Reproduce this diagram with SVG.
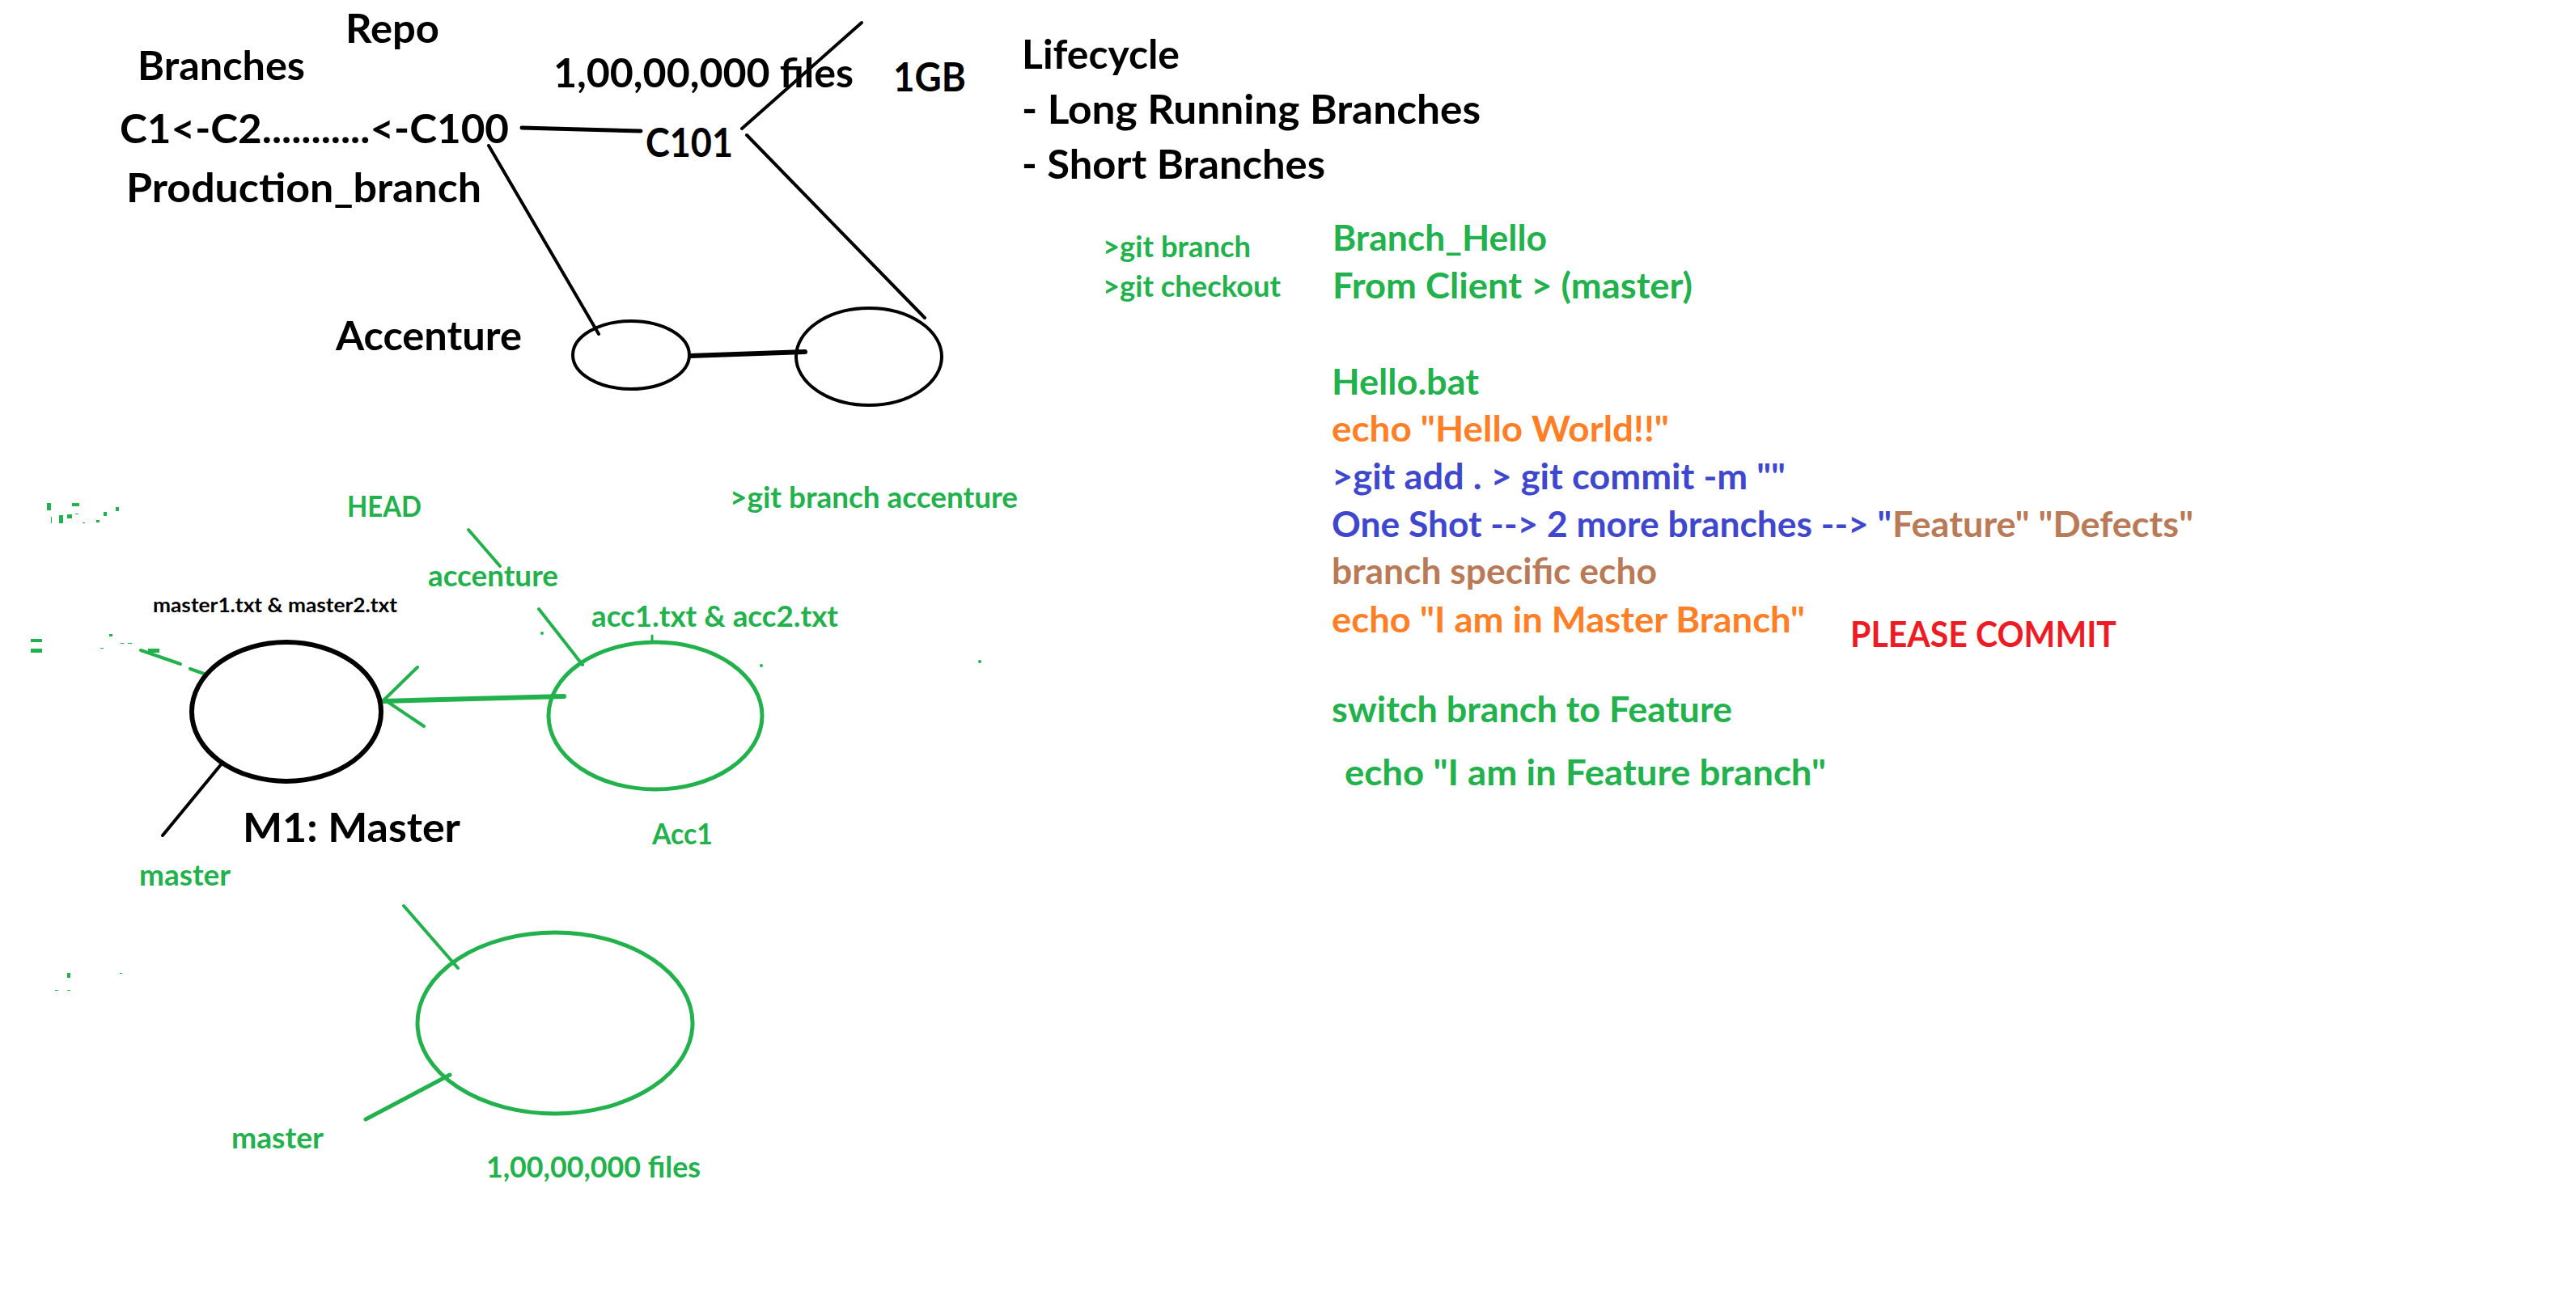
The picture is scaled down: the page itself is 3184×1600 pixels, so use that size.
<svg xmlns="http://www.w3.org/2000/svg" width="3184" height="1600" viewBox="0 0 3184 1600">
<style>
text{font-family:Lato,"Open Sans","Liberation Sans",sans-serif;font-weight:bold}
.bk{fill:#000;font-size:50px}
.g36{fill:#22B14C;font-size:36px}
.c43{font-size:43px}
.green{fill:#22B14C}
.orange{fill:#FF7F27}
.blue{fill:#3F48CC}
.brown{fill:#B97A57}
.red{fill:#ED1C24}
.small{fill:#000;font-size:25px}
.lb{stroke:#000;fill:none;stroke-linecap:round}
.lg{stroke:#22B14C;fill:none;stroke-linecap:round}
.frag{fill:#22B14C}
</style>
<rect width="3184" height="1600" fill="#fff"/>

<g id="connectors">
<line class="lb" x1="645" y1="158" x2="792" y2="162" stroke-width="5"/>
<line class="lb" x1="1065" y1="28" x2="917" y2="159" stroke-width="4"/>
<line class="lb" x1="923" y1="167" x2="1143" y2="393" stroke-width="4"/>
<line class="lb" x1="604" y1="180" x2="740" y2="413" stroke-width="4"/>
<line class="lb" x1="853" y1="440" x2="995" y2="435" stroke-width="6"/>
<line class="lb" x1="275" y1="943" x2="201" y2="1033" stroke-width="4"/>
<line class="lg" x1="579" y1="655" x2="618" y2="700" stroke-width="4"/>
<line class="lg" x1="666" y1="753" x2="720" y2="822" stroke-width="4"/>
<line class="lg" x1="174" y1="804" x2="223" y2="821" stroke-width="4"/>
<line class="lg" x1="235" y1="827" x2="252" y2="833" stroke-width="4"/>
<line class="lg" x1="697" y1="861" x2="472" y2="867" stroke-width="6"/>
<line class="lg" x1="516" y1="825" x2="475" y2="865" stroke-width="4"/>
<line class="lg" x1="475" y1="865" x2="524" y2="898" stroke-width="4"/>
<line class="lg" x1="499" y1="1120" x2="566" y2="1197" stroke-width="4"/>
<line class="lg" x1="452" y1="1384" x2="556" y2="1329" stroke-width="5"/>
<line class="lg" x1="806" y1="786" x2="806" y2="794" stroke-width="3"/>
</g>

<g id="repo-notes">
<text class="bk" x="427" y="53" textLength="116" lengthAdjust="spacingAndGlyphs">Repo</text>
<text class="bk" x="170" y="99" textLength="207" lengthAdjust="spacingAndGlyphs">Branches</text>
<text class="bk" x="684" y="108" textLength="371" lengthAdjust="spacingAndGlyphs">1,00,00,000 files</text>
<text class="bk" x="1104" y="113" textLength="90" lengthAdjust="spacingAndGlyphs">1GB</text>
<text class="bk" x="148" y="177" textLength="481" lengthAdjust="spacingAndGlyphs">C1&lt;-C2...........&lt;-C100</text>
<text class="bk" x="798" y="194" textLength="108" lengthAdjust="spacingAndGlyphs">C101</text>
<text class="bk" x="156" y="250" textLength="439" lengthAdjust="spacingAndGlyphs">Production_branch</text>
<text class="bk" x="415" y="433" textLength="230" lengthAdjust="spacingAndGlyphs">Accenture</text>
</g>

<g id="node-accenture-small"><ellipse cx="780" cy="439" rx="72" ry="42" fill="none" stroke="#000" stroke-width="4"/></g>
<g id="node-accenture-big"><ellipse cx="1074" cy="441" rx="90" ry="60" fill="none" stroke="#000" stroke-width="4"/></g>

<g id="lifecycle">
<text class="bk" x="1263" y="85" textLength="195" lengthAdjust="spacingAndGlyphs">Lifecycle</text>
<text class="bk" x="1263" y="153" textLength="567" lengthAdjust="spacingAndGlyphs">- Long Running Branches</text>
<text class="bk" x="1263" y="221" textLength="375" lengthAdjust="spacingAndGlyphs">- Short Branches</text>
</g>

<g id="git-commands">
<text class="g36" x="1363" y="318" textLength="183" lengthAdjust="spacingAndGlyphs">&gt;git branch</text>
<text class="g36" x="1363" y="367" textLength="220" lengthAdjust="spacingAndGlyphs">&gt;git checkout</text>
</g>

<g id="steps">
<text class="c43 green" x="1647" y="310" textLength="265" lengthAdjust="spacingAndGlyphs">Branch_Hello</text>
<text class="c43 green" x="1647" y="369" textLength="445" lengthAdjust="spacingAndGlyphs">From Client &gt; (master)</text>
<text class="c43 green" x="1646" y="488" textLength="182" lengthAdjust="spacingAndGlyphs">Hello.bat</text>
<text class="c43 orange" x="1646" y="546" textLength="417" lengthAdjust="spacingAndGlyphs">echo "Hello World!!"</text>
<text class="c43 blue" x="1646" y="605" textLength="561" lengthAdjust="spacingAndGlyphs">&gt;git add . &gt; git commit -m ""</text>
<text class="c43 blue" x="1646" y="664" textLength="692" lengthAdjust="spacingAndGlyphs">One Shot --&gt; 2 more branches --&gt; "</text>
<text class="c43 brown" x="2339" y="664" textLength="372" lengthAdjust="spacingAndGlyphs">Feature" "Defects"</text>
<text class="c43 brown" x="1646" y="722" textLength="402" lengthAdjust="spacingAndGlyphs">branch specific echo</text>
<text class="c43 orange" x="1646" y="782" textLength="585" lengthAdjust="spacingAndGlyphs">echo "I am in Master Branch"</text>
<text class="c43 red" x="2287" y="800" textLength="329" lengthAdjust="spacingAndGlyphs">PLEASE COMMIT</text>
<text class="c43 green" x="1646" y="893" textLength="495" lengthAdjust="spacingAndGlyphs">switch branch to Feature</text>
<text class="c43 green" x="1662" y="971" textLength="595" lengthAdjust="spacingAndGlyphs">echo "I am in Feature branch"</text>
</g>

<g id="labels-lower">
<text class="g36" x="429" y="639" textLength="92" lengthAdjust="spacingAndGlyphs">HEAD</text>
<text class="g36" x="902" y="628" textLength="356" lengthAdjust="spacingAndGlyphs">&gt;git branch accenture</text>
<text class="g36" x="529" y="725" textLength="161" lengthAdjust="spacingAndGlyphs">accenture</text>
<text class="small" x="189" y="757" textLength="302" lengthAdjust="spacingAndGlyphs">master1.txt &amp; master2.txt</text>
<text class="g36" x="731" y="775" textLength="305" lengthAdjust="spacingAndGlyphs">acc1.txt &amp; acc2.txt</text>
<text class="g36" x="172" y="1095" textLength="113" lengthAdjust="spacingAndGlyphs">master</text>
<text class="g36" x="286" y="1420" textLength="114" lengthAdjust="spacingAndGlyphs">master</text>
<text class="g36" x="601" y="1456" textLength="265" lengthAdjust="spacingAndGlyphs">1,00,00,000 files</text>
</g>

<g id="node-m1">
<ellipse cx="354" cy="880" rx="117" ry="86" fill="none" stroke="#000" stroke-width="6"/>
<text class="bk" x="300" y="1041" textLength="269" lengthAdjust="spacingAndGlyphs">M1: Master</text>
</g>

<g id="node-acc1">
<ellipse cx="810" cy="885" rx="132" ry="91" fill="none" stroke="#22B14C" stroke-width="5"/>
<text class="g36" x="806" y="1044" textLength="75" lengthAdjust="spacingAndGlyphs">Acc1</text>
</g>

<g id="node-files">
<ellipse cx="686" cy="1265" rx="170" ry="112" fill="none" stroke="#22B14C" stroke-width="5"/>
</g>

<g id="fragments">
<rect class="frag" x="58" y="622" width="5" height="9"/>
<rect class="frag" x="89" y="622" width="9" height="4"/>
<rect class="frag" x="73" y="637" width="5" height="10"/>
<rect class="frag" x="63" y="639" width="1" height="8"/>
<rect class="frag" x="83" y="636" width="6" height="5"/>
<rect class="frag" x="93" y="635" width="4" height="1"/>
<rect class="frag" x="128" y="633" width="4" height="5"/>
<rect class="frag" x="143" y="627" width="4" height="5"/>
<rect class="frag" x="102" y="646" width="3" height="1"/>
<rect class="frag" x="119" y="643" width="4" height="3"/>
<path class="frag" d="M38 790h14v4h-14zM38 802h14v5h-14z"/>
<rect class="frag" x="135" y="784" width="4" height="3"/>
<rect class="frag" x="149" y="795" width="4" height="1"/>
<rect class="frag" x="158" y="795" width="5" height="1"/>
<rect class="frag" x="124" y="801" width="4" height="1"/>
<rect class="frag" x="183" y="802" width="14" height="5"/>
<circle class="frag" cx="670" cy="783" r="2"/>
<circle class="frag" cx="941" cy="823" r="2"/>
<circle class="frag" cx="1211" cy="818" r="2"/>
<rect class="frag" x="83" y="1203" width="4" height="6"/>
<rect class="frag" x="68" y="1224" width="4" height="1"/>
<rect class="frag" x="83" y="1224" width="4" height="1"/>
<rect class="frag" x="148" y="1203" width="3" height="1"/>
</g>
</svg>
